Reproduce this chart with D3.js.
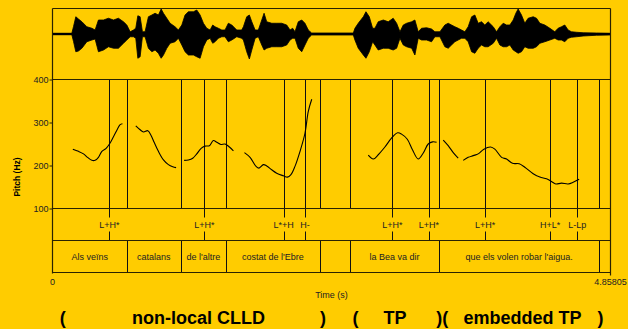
<!DOCTYPE html>
<html><head><meta charset="utf-8">
<script src="https://cdn.jsdelivr.net/npm/d3@7"></script>
<style>
html,body{margin:0;padding:0;background:#FFCC00;}
svg{display:block;}
text{font-family:"Liberation Sans",Arial,sans-serif;}
</style></head>
<body>
<svg id="c" width="628" height="329"></svg>
<script>
// ---- data ----
const duration = 4.85805;
const pitchTicks = [100, 200, 300, 400];

// waveform envelope (time s, upper amplitude, lower amplitude)
const waveT = [0,0.168,0.183,0.203,0.226,0.256,0.299,0.343,0.371,0.400,0.444,0.487,0.531,0.574,0.618,0.647,0.676,0.705,0.725,0.743,0.763,0.783,0.806,0.835,0.865,0.893,0.922,0.946,0.966,0.995,1.024,1.067,1.096,1.126,1.154,1.183,1.227,1.256,1.285,1.314,1.343,1.372,1.395,1.415,1.444,1.474,1.502,1.531,1.561,1.604,1.647,1.662,1.691,1.714,1.735,1.764,1.792,1.822,1.842,1.865,1.909,1.952,1.995,2.039,2.068,2.091,2.111,2.140,2.170,2.198,2.227,2.256,2.619,2.633,2.662,2.706,2.729,2.758,2.787,2.807,2.836,2.880,2.923,2.966,2.996,3.025,3.054,3.083,3.127,3.155,3.184,3.213,3.257,3.300,3.329,3.373,3.416,3.445,3.474,3.503,3.532,3.561,3.590,3.619,3.649,3.677,3.706,3.735,3.764,3.793,3.837,3.866,3.895,3.924,3.953,3.982,4.011,4.034,4.054,4.083,4.112,4.141,4.185,4.214,4.243,4.286,4.330,4.373,4.402,4.431,4.460,4.489,4.518,4.562,4.620,4.736,4.853,4.858];
const waveTop = [0.03,0.03,0.30,0.69,0.60,0.49,0.29,0.23,0.16,0.56,0.56,0.63,0.56,0.63,0.49,0.36,0.09,0.16,0.23,0.73,0.69,0.09,0.09,0.69,0.76,0.83,0.76,1.00,0.83,0.63,0.43,0.29,0.16,0.36,0.76,0.89,0.89,0.96,0.76,0.43,0.23,0.16,0.36,0.29,0.23,0.16,0.16,0.43,0.36,0.16,0.16,0.29,0.69,0.76,0.49,0.16,0.16,0.56,0.83,0.49,0.43,0.43,0.43,0.36,0.16,0.23,0.09,0.49,0.56,0.43,0.16,0.04,0.04,0.23,0.43,0.69,0.89,0.69,0.23,0.23,0.49,0.56,0.49,0.63,0.43,0.09,0.36,0.43,0.49,0.56,0.09,0.23,0.25,0.20,0.09,0.09,0.36,0.43,0.36,0.29,0.23,0.16,0.09,0.29,0.69,0.76,0.43,0.49,0.36,0.49,0.29,0.09,0.29,0.43,0.36,0.36,0.56,0.83,1.00,0.76,0.43,0.63,0.69,0.63,0.43,0.36,0.23,0.09,0.23,0.29,0.36,0.16,0.09,0.07,0.05,0.04,0.03,0.03];
const waveBot = [-0.03,-0.03,-0.30,-0.71,-0.68,-0.57,-0.31,-0.24,-0.20,-0.71,-0.64,-0.51,-0.57,-0.57,-0.37,-0.24,-0.11,-0.11,-0.17,-0.97,-0.91,-0.11,-0.11,-0.57,-0.71,-0.64,-0.77,-0.97,-0.84,-0.57,-0.37,-0.31,-0.17,-0.44,-0.71,-0.84,-0.84,-0.91,-0.97,-0.51,-0.24,-0.17,-0.37,-0.31,-0.17,-0.11,-0.11,-0.31,-0.24,-0.11,-0.17,-0.24,-0.71,-1.00,-0.64,-0.17,-0.11,-0.44,-0.64,-0.57,-0.51,-0.51,-0.51,-0.44,-0.24,-0.17,-0.17,-0.57,-0.71,-0.44,-0.17,-0.04,-0.04,-0.24,-0.57,-0.84,-0.97,-0.71,-0.31,-0.44,-0.64,-0.57,-0.57,-0.64,-0.57,-0.17,-0.44,-0.51,-0.57,-0.84,-0.17,-0.24,-0.24,-0.31,-0.11,-0.11,-0.51,-0.57,-0.44,-0.31,-0.24,-0.17,-0.17,-0.31,-0.71,-0.77,-0.57,-0.44,-0.51,-0.51,-0.37,-0.17,-0.44,-0.51,-0.51,-0.44,-0.64,-0.71,-0.77,-0.71,-0.51,-0.57,-0.57,-0.51,-0.37,-0.31,-0.24,-0.17,-0.24,-0.24,-0.31,-0.17,-0.13,-0.11,-0.08,-0.05,-0.04,-0.03];

// pitch contour segments: [time s, Hz]
const pitchSeg1 = [[0.177,238],[0.226,233],[0.270,227],[0.305,219],[0.343,212],[0.371,212],[0.400,219],[0.430,233],[0.467,240],[0.496,250],[0.531,267],[0.566,285],[0.589,295],[0.609,297]];
const pitchSeg2 = [[0.725,292],[0.763,283],[0.792,278],[0.830,281],[0.856,271],[0.885,254],[0.922,233],[0.966,213],[1.009,202],[1.047,197],[1.076,195]];
const pitchSeg3 = [[1.146,212],[1.183,213],[1.221,217],[1.256,227],[1.294,240],[1.328,245],[1.366,246],[1.401,258],[1.430,254],[1.465,249],[1.502,250],[1.540,243],[1.575,234]];
const pitchSeg4 = [[1.671,230],[1.720,219],[1.772,198],[1.798,194],[1.836,202],[1.865,199],[1.908,190],[1.952,182],[2.010,176],[2.045,173],[2.074,178],[2.111,198],[2.155,233],[2.198,275],[2.227,326],[2.257,354]];
const pitchSeg5 = [[2.749,224],[2.793,215],[2.836,225],[2.894,243],[2.953,264],[3.005,276],[3.039,273],[3.089,261],[3.135,236],[3.184,215],[3.228,229],[3.271,250],[3.309,255],[3.344,254]];
const pitchSeg6 = [[3.402,259],[3.445,246],[3.489,230],[3.532,217]];
const pitchSeg7 = [[3.576,212],[3.619,219],[3.663,223],[3.706,227],[3.756,238],[3.814,243],[3.851,238],[3.910,219],[3.953,215],[4.005,205],[4.063,204],[4.112,196],[4.185,181],[4.243,173],[4.301,169],[4.344,163],[4.382,157],[4.431,159],[4.489,157],[4.533,161],[4.585,168]];
const pitchSegments = [pitchSeg1,pitchSeg2,pitchSeg3,pitchSeg4,pitchSeg5,pitchSeg6,pitchSeg7];

// tone tier
const toneTimes  = [0.496,1.322,2.013,2.198,2.958,3.277,3.767,4.333,4.568];
const toneLabels = ["L+H*","L+H*","L*+H","H-","L+H*","L+H*","L+H*","H+L*","L-Lp"];

// word tier
const wordBounds = [0,0.647,1.117,1.509,2.329,2.587,3.367,4.759,4.85805];
const wordLabels = ["Als veïns","catalans","de l'altre","costat de l'Ebre","","la Bea va dir","que els volen robar l'aigua.",""];

// annotation line
const annoTexts = ["(","non-local CLLD",")","(","TP",")(","embedded TP",")"];
const annoCenters = [62.8,198.5,323,355.5,395,442.3,522.5,600.5];

// ---- drawing ----
const svg = d3.select("#c");
const L = 52.5, R = 610.5, TOP = 8.5, PT = 79.5, PB = 208.5, TB = 240.5, WB = 272.5;
const lineCol = "#2a2200";

const x = d3.scaleLinear().domain([0, duration]).range([L, R]);
const yP = d3.scaleLinear().domain([100, 400]).range([PB, PT]);
const yW = d3.scaleLinear().domain([-1, 1]).range([59, 9]);

// waveform
const wave = waveT.map((t,i)=>({t, top:waveTop[i], bot:waveBot[i]}));
svg.append("line").attr("x1",x(0)).attr("x2",x(duration)).attr("y1",yW(0)).attr("y2",yW(0))
  .attr("stroke","#000").attr("stroke-width",1.8);
svg.append("path").datum(wave)
  .attr("d", d3.area().x(d=>x(d.t)).y0(d=>yW(d.bot)).y1(d=>yW(d.top)).curve(d3.curveLinear))
  .attr("fill","#000").attr("stroke","#000").attr("stroke-width",0.8);

// vertical lines in pitch panel (word boundaries + tone points)
const innerBounds = wordBounds.slice(1, -1);
svg.append("g").selectAll("line").data(innerBounds.concat(toneTimes)).join("line")
  .attr("x1",d=>Math.round(x(d))+0.5).attr("x2",d=>Math.round(x(d))+0.5)
  .attr("y1",PT).attr("y2",PB).attr("stroke","#111").attr("stroke-width",1);

// pitch contour
const lineGen = d3.line().x(d=>x(d[0])).y(d=>yP(d[1])).curve(d3.curveCatmullRom);
svg.append("g").selectAll("path").data(pitchSegments).join("path")
  .attr("d", lineGen).attr("fill","none").attr("stroke","#000").attr("stroke-width",1.1);

// tone tier ticks & labels
const tg = svg.append("g");
tg.selectAll("line.a").data(toneTimes).join("line").attr("class","a")
  .attr("x1",d=>Math.round(x(d))+0.5).attr("x2",d=>Math.round(x(d))+0.5)
  .attr("y1",PB).attr("y2",PB+9).attr("stroke","#111");
tg.selectAll("line.b").data(toneTimes).join("line").attr("class","b")
  .attr("x1",d=>Math.round(x(d))+0.5).attr("x2",d=>Math.round(x(d))+0.5)
  .attr("y1",TB-9).attr("y2",TB).attr("stroke","#111");
tg.selectAll("text").data(toneTimes).join("text")
  .attr("x",d=>x(d)).attr("y",227.5).attr("text-anchor","middle")
  .attr("font-size",9).attr("fill","#222").text((d,i)=>toneLabels[i]);

// word tier boundaries & labels
const wg = svg.append("g");
wg.selectAll("line").data(innerBounds).join("line")
  .attr("x1",d=>Math.round(x(d))+0.5).attr("x2",d=>Math.round(x(d))+0.5)
  .attr("y1",TB).attr("y2",WB).attr("stroke","#111");
wg.selectAll("text").data(wordLabels).join("text")
  .attr("x",(d,i)=>(x(wordBounds[i])+x(wordBounds[i+1]))/2).attr("y",260)
  .attr("text-anchor","middle").attr("font-size",9).attr("fill","#222").text(d=>d);

// frame lines
const frame = svg.append("g").attr("stroke",lineCol).attr("stroke-width",1.2);
[TOP, PT, PB, TB, WB].forEach(yy=>frame.append("line").attr("x1",L).attr("x2",R).attr("y1",yy).attr("y2",yy));
frame.append("line").attr("x1",L).attr("x2",L).attr("y1",TOP).attr("y2",WB+1);
frame.append("line").attr("x1",R).attr("x2",R).attr("y1",TOP).attr("y2",WB+3);

// pitch axis
const ax = svg.append("g").attr("transform",`translate(${L},0)`)
  .call(d3.axisLeft(yP).tickValues(pitchTicks).tickSize(3).tickPadding(1).tickFormat(d3.format("d")));
ax.select(".domain").remove();
ax.selectAll("line").attr("stroke",lineCol);
ax.selectAll("text").attr("font-size",9).attr("fill","#222").attr("font-family","Liberation Sans, Arial, sans-serif");

svg.append("text").attr("transform","translate(20,177) rotate(-90)").attr("text-anchor","middle")
  .attr("font-size",8.5).attr("font-weight","bold").attr("fill","#000").text("Pitch (Hz)");

// time axis labels
svg.append("text").attr("x",x(0)).attr("y",285).attr("text-anchor","middle").attr("font-size",9).attr("fill","#222").text("0");
svg.append("text").attr("x",x(duration)).attr("y",285).attr("text-anchor","middle").attr("font-size",9).attr("fill","#222").text(String(duration));
svg.append("text").attr("x",(L+R)/2).attr("y",297.5).attr("text-anchor","middle").attr("font-size",9).attr("fill","#222").text("Time (s)");

// annotation
svg.append("g").selectAll("text").data(annoTexts).join("text")
  .attr("x",(d,i)=>annoCenters[i]).attr("y",323.5).attr("text-anchor","middle")
  .attr("font-size",18).attr("font-weight","bold").attr("fill","#000").text(d=>d);
</script>
</body></html>
